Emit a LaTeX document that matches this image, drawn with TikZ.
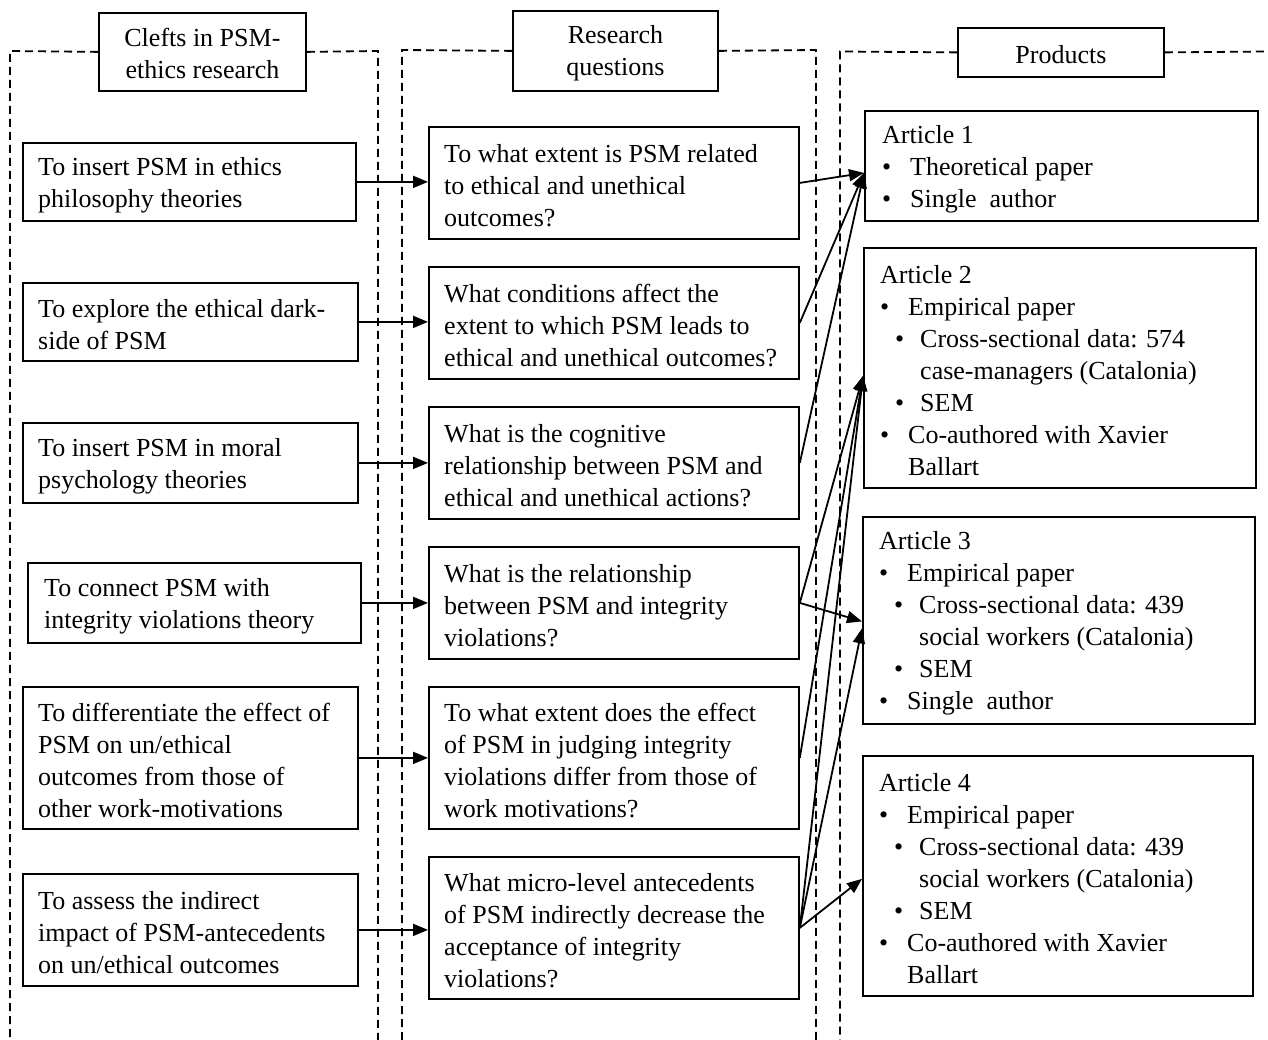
\documentclass[tikz,border=0pt]{standalone}
\usepackage{fontspec}
\setmainfont{Liberation Serif}
\usetikzlibrary{arrows.meta,calc}
% bullet helpers for the product boxes
\newcommand\itm{\makebox[28pt][l]{\textbullet}}
\newcommand\subitm{\hspace*{15pt}\makebox[25pt][l]{\textbullet}}
\newcommand\cont{\hspace*{28pt}}
\newcommand\subcont{\hspace*{40pt}}
\begin{document}
\begin{tikzpicture}[x=1pt,y=-1pt,
  every node/.style={font=\fontsize{26}{32}\selectfont},
  frame/.style={draw, line width=1.8pt, inner sep=0pt, anchor=north west},
  txt/.style={anchor=west, align=left, inner sep=0pt, yshift=-3pt},
  headtxt/.style={align=center, inner sep=0pt, yshift=-2pt},
  lane/.style={dash pattern=on 8pt off 5pt, line width=1.8pt},
  link/.style={line width=1.8pt, -{Triangle[length=15pt,width=12pt]}},
]
\useasboundingbox (0,0) rectangle (1268,1040);

% column headers
\node[frame, minimum width=207pt, minimum height=78pt] (h1) at (98,12) {};
\node[frame, minimum width=205pt, minimum height=80pt] (h2) at (512,10) {};
\node[frame, minimum width=206pt, minimum height=49pt] (h3) at (957,27) {};
\node[headtxt] (h1t) at (h1.center) {Clefts in PSM-\\ethics research};
\node[headtxt] (h2t) at (h2.center) {Research\\questions};
\node[headtxt] (h3t) at (h3.center) {Products};

% dashed column frames
\draw[lane] (h1.west) -- (10,51) -- (10,1040);
\draw[lane] (h1.east) -- (378,51) -- (378,1040);
\draw[lane] (h2.west) -- (402,50) -- (402,1040);
\draw[lane] (h2.east) -- (816,50) -- (816,1040);
\draw[lane] (h3.west) -- (840,51.5) -- (840,1040);
\draw[lane] (h3.east) -- (1268,51.5);

% clefts
\node[frame, minimum width=333pt, minimum height=78pt] (c1) at (22,142) {};
\node[frame, minimum width=335pt, minimum height=78pt] (c2) at (22,282) {};
\node[frame, minimum width=335pt, minimum height=80pt] (c3) at (22,422) {};
\node[frame, minimum width=333pt, minimum height=80pt] (c4) at (27,562) {};
\node[frame, minimum width=335pt, minimum height=142pt] (c5) at (22,686) {};
\node[frame, minimum width=335pt, minimum height=112pt] (c6) at (22,873) {};
\node[txt] (c1t) at ([xshift=16pt]c1.west) {To insert PSM in ethics\\philosophy theories};
\node[txt] (c2t) at ([xshift=16pt]c2.west) {To explore the ethical dark-\\side of PSM};
\node[txt] (c3t) at ([xshift=16pt]c3.west) {To insert PSM in moral\\psychology theories};
\node[txt] (c4t) at ([xshift=17pt]c4.west) {To connect PSM with\\integrity violations theory};
\node[txt] (c5t) at ([xshift=16pt]c5.west) {To differentiate the effect of\\PSM on un/ethical\\outcomes from those of\\other work-motivations};
\node[txt] (c6t) at ([xshift=16pt]c6.west) {To assess the indirect\\impact of PSM-antecedents\\on un/ethical outcomes};

% research questions
\node[frame, minimum width=370pt, minimum height=112pt] (q1) at (428,126) {};
\node[frame, minimum width=370pt, minimum height=112pt] (q2) at (428,266) {};
\node[frame, minimum width=370pt, minimum height=112pt] (q3) at (428,406) {};
\node[frame, minimum width=370pt, minimum height=112pt] (q4) at (428,546) {};
\node[frame, minimum width=370pt, minimum height=142pt] (q5) at (428,686) {};
\node[frame, minimum width=370pt, minimum height=142pt] (q6) at (428,856) {};
\node[txt] (q1t) at ([xshift=16pt]q1.west) {To what extent is PSM related\\to ethical and unethical\\outcomes?};
\node[txt] (q2t) at ([xshift=16pt]q2.west) {What conditions affect the\\extent to which PSM leads to\\ethical and unethical outcomes?};
\node[txt] (q3t) at ([xshift=16pt]q3.west) {What is the cognitive\\relationship between PSM and\\ethical and unethical actions?};
\node[txt] (q4t) at ([xshift=16pt]q4.west) {What is the relationship\\between PSM and integrity\\violations?};
\node[txt] (q5t) at ([xshift=16pt]q5.west) {To what extent does the effect\\of PSM in judging integrity\\violations differ from those of\\work motivations?};
\node[txt] (q6t) at ([xshift=16pt]q6.west) {What micro-level antecedents\\of PSM indirectly decrease the\\acceptance of integrity\\violations?};

% products
\node[frame, minimum width=393pt, minimum height=110pt] (a1) at (864,110) {};
\node[frame, minimum width=392pt, minimum height=240pt] (a2) at (863,247) {};
\node[frame, minimum width=392pt, minimum height=207pt] (a3) at (862,516) {};
\node[frame, minimum width=390pt, minimum height=240pt] (a4) at (862,755) {};
\node[txt] (a1t) at ([xshift=18pt]a1.west) {Article 1\\\itm Theoretical paper\\\itm Single\ \ author};
\node[txt] (a2t) at ([xshift=17pt]a2.west) {Article 2\\\itm Empirical paper\\\subitm Cross-sectional data: 574\\\subcont case-managers (Catalonia)\\\subitm SEM\\\itm Co-authored with Xavier\\\cont Ballart};
\node[txt] (a3t) at ([xshift=17pt]a3.west) {Article 3\\\itm Empirical paper\\\subitm Cross-sectional data: 439\\\subcont social workers (Catalonia)\\\subitm SEM\\\itm Single\ \ author};
\node[txt] (a4t) at ([xshift=17pt]a4.west) {Article 4\\\itm Empirical paper\\\subitm Cross-sectional data: 439\\\subcont social workers (Catalonia)\\\subitm SEM\\\itm Co-authored with Xavier\\\cont Ballart};

% clefts to questions
\foreach \i in {1,...,6}
  \draw[link] (c\i.east) -- (c\i.east -| q\i.west);

% entry points on the product boxes
\coordinate (a1in) at ($(a1.west)+(0,7)$);
\coordinate (a2in) at ($(a2.west)+(0,8)$);
\coordinate (a3inA) at ($(a3.west)+(0,1)$);
\coordinate (a3inB) at ($(a3.west)+(0,8)$);
\coordinate (a4in) at ($(a4.west)+(0,3)$);

% questions to products
\draw[link] (q1.east) -- (a1in);
\draw[link] (q2.east) -- (a1in);
\draw[link] (q3.east) -- (a1in);
\draw[link] (q4.east) -- (a2in);
\draw[link] (q4.east) -- (a3inA);
\draw[link] (q5.east) -- (a2in);
\draw[link] (q6.east) -- (a2in);
\draw[link] (q6.east) -- (a3inB);
\draw[link] (q6.east) -- (a4in);
\end{tikzpicture}
\end{document}
